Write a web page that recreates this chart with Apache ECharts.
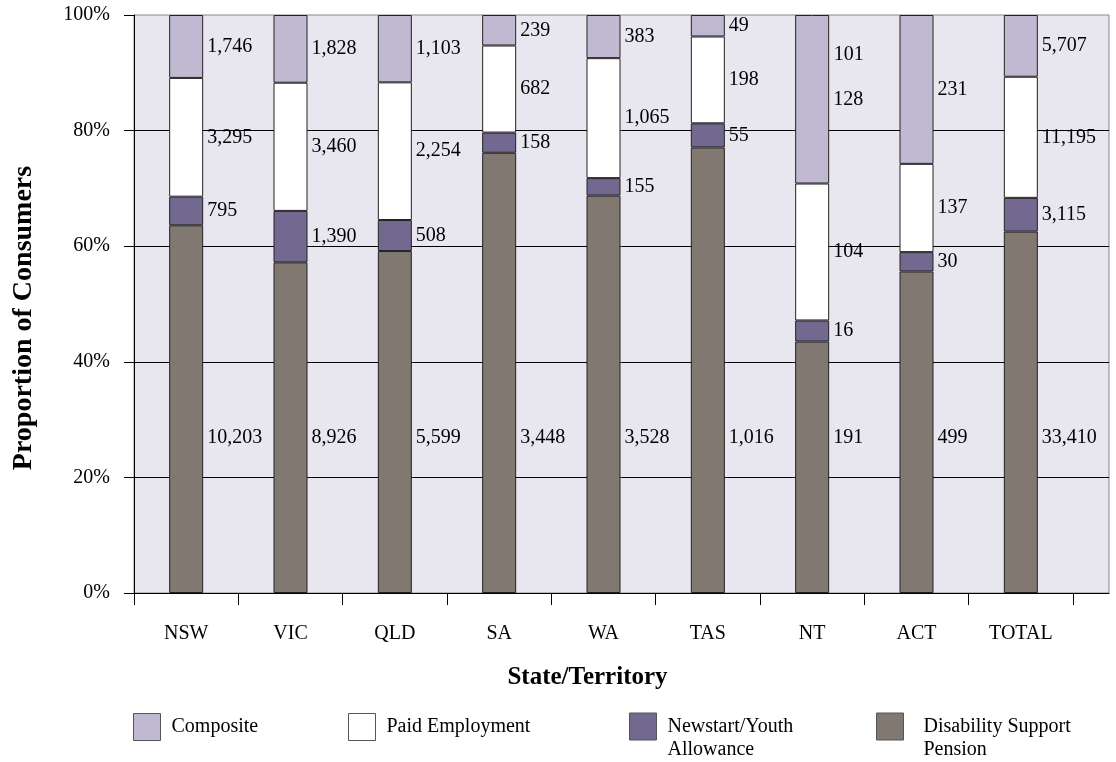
<!DOCTYPE html>
<html>
<head>
<meta charset="utf-8">
<script src="https://cdn.jsdelivr.net/npm/echarts@6/dist/echarts.min.js"></script>
<style>
  html, body { margin: 0; padding: 0; background: #ffffff; }
  #chart { width: 1116px; height: 762px; }
</style>
</head>
<body>
<div id="chart"></div>
<script>
// Consumers by income support type, per State/Territory
const categories = ['NSW', 'VIC', 'QLD', 'SA', 'WA', 'TAS', 'NT', 'ACT', 'TOTAL'];
const disabilityPension = [10203, 8926, 5599, 3448, 3528, 1016, 191, 499, 33410];
const newstartYouth = [795, 1390, 508, 158, 155, 55, 16, 30, 3115];
const paidEmployment = [3295, 3460, 2254, 682, 1065, 198, 104, 137, 11195];
const composite = [1746, 1828, 1103, 239, 383, 49, 128, 231, 5707];
// count printed above the NT composite figure
const otherCounts = [null, null, null, null, null, null, 101, null, null];
const yTicks = [0, 20, 40, 60, 80, 100];

const FONT = "'Liberation Serif', 'DejaVu Serif', serif";
const totals = categories.map((_, i) =>
  disabilityPension[i] + newstartYouth[i] + paidEmployment[i] + composite[i]);
const share = arr => arr.map((v, i) => v / totals[i] * 100);
const fmt = n => n.toLocaleString('en-US');

// height (in %) at which the pension counts are written
const pensionLabelLevel = 26.8;

const labelBase = {
  show: true,
  position: 'right',
  distance: 4,
  color: '#000',
  fontFamily: FONT,
  fontSize: 20
};

function barSeries(name, counts, color, extra) {
  const pct = share(counts);
  return Object.assign({
    name: name,
    type: 'bar',
    xAxisIndex: 1,
    yAxisIndex: 1,
    stack: 'all',
    barWidth: 34,
    itemStyle: { color: color, borderColor: '#222', borderWidth: 1 },
    label: Object.assign({}, labelBase, {
      formatter: p => fmt(counts[p.dataIndex])
    }),
    data: pct
  }, extra || {});
}

const pensionShare = share(disabilityPension);

const chart = echarts.init(document.getElementById('chart'), null, { renderer: 'canvas' });

const legendText = { fontFamily: FONT, fontSize: 20, color: '#000', lineHeight: 23 };
const legendCommon = {
  top: 713,
  padding: 0,
  itemWidth: 27,
  itemHeight: 27,
  icon: 'rect',
  selectedMode: false,
  itemStyle: { borderColor: '#555', borderWidth: 1 }
};

chart.setOption({
  animation: false,
  backgroundColor: '#ffffff',
  grid: [
    { left: 134, right: 7, top: 15, bottom: 169, show: true,
      backgroundColor: '#e8e6ee', borderColor: '#888', borderWidth: 1 },
    { left: 134, width: 939, top: 15, bottom: 169 }
  ],
  legend: [
    Object.assign({}, legendCommon, { left: 133, data: ['Composite'],
      textStyle: Object.assign({}, legendText, { padding: [0, 0, 0, 6] }) }),
    Object.assign({}, legendCommon, { left: 348, data: ['Paid Employment'],
      textStyle: Object.assign({}, legendText, { padding: [0, 0, 0, 6] }) }),
    Object.assign({}, legendCommon, { left: 629, top: 692, data: ['Newstart/Youth Allowance'],
      formatter: () => '\nNewstart/Youth\nAllowance',
      textStyle: Object.assign({}, legendText, { padding: [0, 0, 0, 6] }) }),
    Object.assign({}, legendCommon, { left: 876, top: 692, data: ['Disability Support Pension'],
      formatter: () => '\nDisability Support\nPension',
      textStyle: Object.assign({}, legendText, { padding: [0, 0, 0, 15] }) })
  ],
  xAxis: [
    { gridIndex: 0, type: 'value', min: 0, max: 1,
      axisLine: { show: true, lineStyle: { color: '#000', width: 1 } },
      axisTick: { show: false }, axisLabel: { show: false }, splitLine: { show: false } },
    { gridIndex: 1, type: 'category', data: categories, boundaryGap: true,
      axisLine: { show: false },
      axisTick: { show: true, length: 12, lineStyle: { color: '#000' } },
      axisLabel: { fontFamily: FONT, fontSize: 20, color: '#000', margin: 31 },
      name: 'State/Territory', nameLocation: 'middle', nameGap: 72,
      nameTextStyle: { fontFamily: FONT, fontSize: 25, fontWeight: 'bold', color: '#000',
        padding: [0, 32, 0, 0] } }
  ],
  yAxis: [
    { gridIndex: 0, type: 'value', min: yTicks[0], max: yTicks[yTicks.length - 1],
      interval: yTicks[1] - yTicks[0],
      axisLine: { show: true, lineStyle: { color: '#000', width: 1 } },
      axisTick: { show: true, length: 10, lineStyle: { color: '#000' } },
      axisLabel: { formatter: '{value}%', fontFamily: FONT, fontSize: 20, color: '#000', margin: 24 },
      splitLine: { show: true, showMaxLine: false, lineStyle: { color: '#000', width: 1 } },
      name: 'Proportion of Consumers', nameLocation: 'middle', nameGap: 96,
      nameTextStyle: { fontFamily: FONT, fontSize: 28, fontWeight: 'bold', color: '#000',
        padding: [0, 28, 0, 0] } },
    { gridIndex: 1, type: 'value', min: 0, max: 100, show: false }
  ],
  series: [
    barSeries('Disability Support Pension', disabilityPension, '#827872', {
      data: pensionShare.map(p => ({
        value: p,
        label: {
          position: ['100%', ((p - pensionLabelLevel) / p * 100) + '%'],
          offset: [4, 0],
          align: 'left',
          verticalAlign: 'middle'
        }
      }))
    }),
    barSeries('Newstart/Youth Allowance', newstartYouth, '#73688f'),
    barSeries('Paid Employment', paidEmployment, '#ffffff'),
    barSeries('Composite', composite, '#c1b9d1'),
    {
      name: 'other',
      type: 'scatter',
      xAxisIndex: 1,
      yAxisIndex: 1,
      symbolSize: 1,
      itemStyle: { color: '#c1b9d1', opacity: 1 },
      silent: true,
      z: 5,
      label: Object.assign({}, labelBase, {
        distance: 21,
        offset: [0, 40],
        opacity: 1,
        formatter: p => fmt(otherCounts[p.dataIndex])
      }),
      data: otherCounts.map((c, i) => (c == null ? null : [i, 100]))
    }
  ]
});
</script>
</body>
</html>
